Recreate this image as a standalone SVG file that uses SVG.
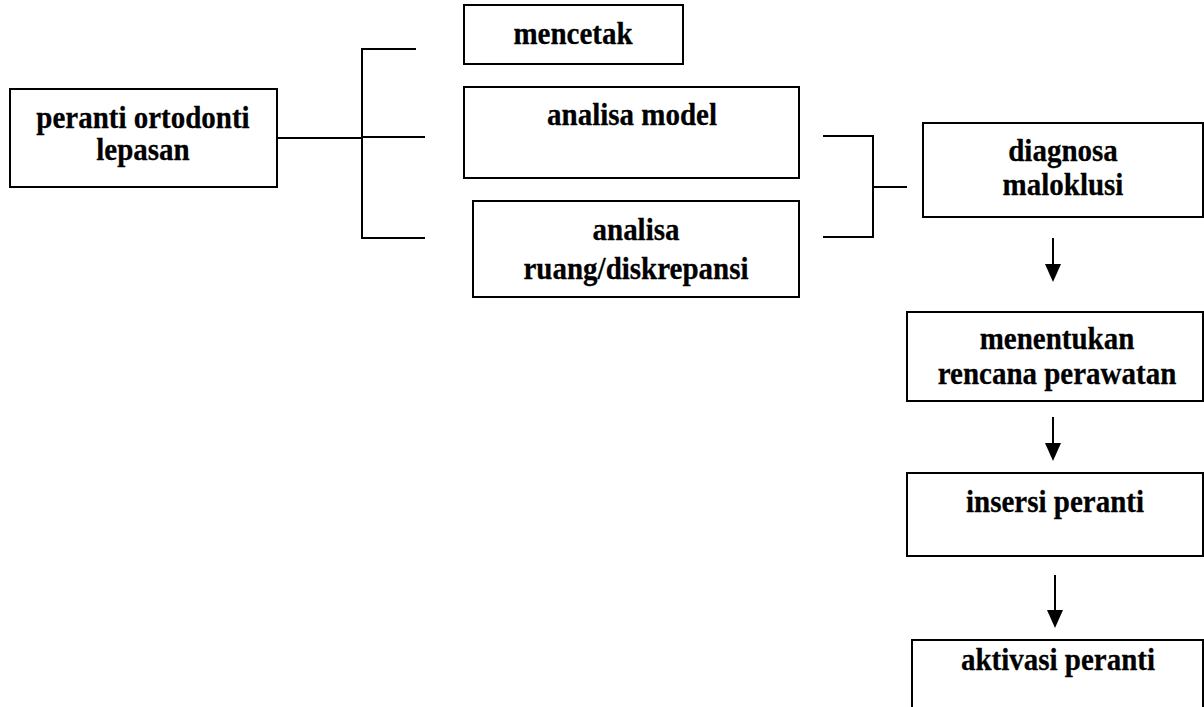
<svg xmlns="http://www.w3.org/2000/svg" width="1204" height="707" viewBox="0 0 1204 707">
<style>
.box{fill:#fff;stroke:#000;stroke-width:2}
.t{font-family:"Liberation Serif","Times New Roman",serif;font-weight:bold;font-size:29px;text-anchor:middle;fill:#000;stroke:#000;stroke-width:0.25}
.c{fill:none;stroke:#000;stroke-width:2}
</style>
<rect width="1204" height="707" fill="#fff"/>
<g id="connectors">
<path class="c" d="M277,138 H362"/>
<path class="c" d="M416,49 H362 V238 H425"/>
<path class="c" d="M362,137 H425"/>
<path class="c" d="M823,136 H873 V237 H823"/>
<path class="c" d="M873,187 H907"/>
<path class="c" d="M1053,238 V264"/>
<path d="M1045,264 L1061,264 L1053,282 Z"/>
<path class="c" d="M1053,417 V443"/>
<path d="M1045,443 L1061,443 L1053,461 Z"/>
<path class="c" d="M1055,575 V610"/>
<path d="M1047,610 L1063,610 L1055,628 Z"/>
</g>
<g id="n1"><rect class="box" x="10" y="89" width="267" height="98"/>
<text class="t" transform="translate(143,128) scale(1,1.07)">peranti ortodonti</text><text class="t" transform="translate(143,160) scale(1,1.07)">lepasan</text></g>
<g id="n2"><rect class="box" x="464" y="5" width="219" height="59"/>
<text class="t" transform="translate(573,44) scale(1,1.07)">mencetak</text></g>
<g id="n3"><rect class="box" x="464" y="87" width="335" height="91"/>
<text class="t" transform="translate(632,125) scale(1,1.07)">analisa model</text></g>
<g id="n4"><rect class="box" x="473" y="201" width="326" height="96"/>
<text class="t" transform="translate(636,240) scale(1,1.07)">analisa</text><text class="t" transform="translate(636,279) scale(1,1.07)">ruang/diskrepansi</text></g>
<g id="n5"><rect class="box" x="923" y="123" width="280" height="94"/>
<text class="t" transform="translate(1063,161) scale(1,1.07)">diagnosa</text><text class="t" transform="translate(1063,195) scale(1,1.07)">maloklusi</text></g>
<g id="n6"><rect class="box" x="907" y="312" width="296" height="89"/>
<text class="t" transform="translate(1057,349) scale(1,1.07)">menentukan</text><text class="t" transform="translate(1057,384) scale(1,1.07)">rencana perawatan</text></g>
<g id="n7"><rect class="box" x="907" y="473" width="296" height="83"/>
<text class="t" transform="translate(1055,512) scale(1,1.07)">insersi peranti</text></g>
<g id="n8"><rect class="box" x="912" y="640" width="291" height="80"/>
<text class="t" transform="translate(1058,670) scale(1,1.07)">aktivasi peranti</text></g>
</svg>
